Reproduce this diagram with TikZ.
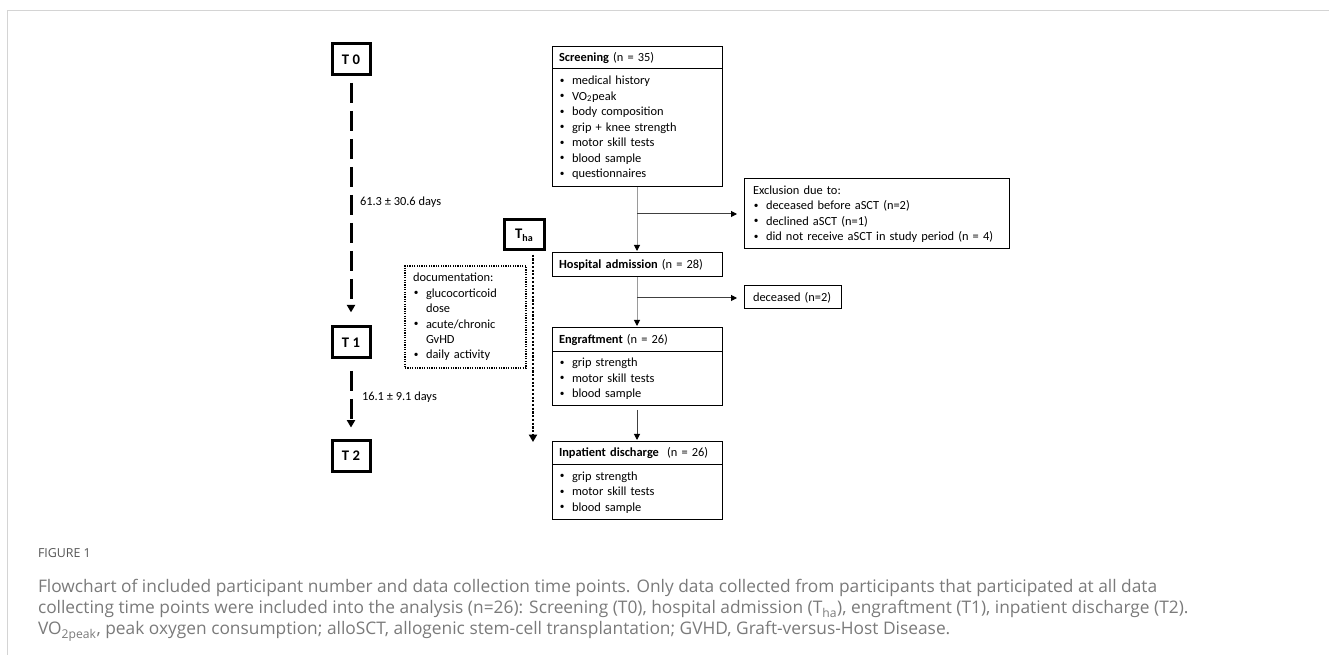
\documentclass[tikz,border=0pt]{standalone}
\usepackage{fontspec}
\setmainfont{Carlito}
\newfontfamily\capfont{Open Sans}
\usetikzlibrary{positioning,arrows.meta}
\definecolor{FrameGray}{HTML}{D4D4D4}
\definecolor{CapGray}{HTML}{7A7A7A}
\definecolor{CapDark}{HTML}{555555}
\definecolor{LinkGray}{HTML}{9A9A9A}
\definecolor{LinkDark}{HTML}{404040}
\newcommand{\itm}{\makebox[9.75pt][l]{\hspace*{0.6pt}\raisebox{0.25ex}{\scalebox{0.75}{\textbullet}}}}
\newcommand{\cnt}{\hspace*{9.75pt}}

\begin{document}
\begin{tikzpicture}[x=0.75pt, y=-0.75pt,
  every node/.style={font=\fontsize{9.3}{11.6}\selectfont, inner sep=0pt, outer sep=0pt},
  tbox/.style={draw, line width=2.25pt, minimum width=28.5pt, minimum height=23.25pt, font=\fontsize{11}{12}\selectfont\bfseries},
  flowbox/.style={draw, line width=0.75pt, minimum width=127.5pt, text width=117pt, inner xsep=5.25pt, align=left},
  sidebox/.style={draw, line width=0.75pt, inner xsep=6.75pt, align=left},
  timeline/.style={line width=2.25pt, dash pattern=on 15pt off 6pt, -{Triangle[width=6pt,length=5.5pt]}},
  flowlink/.style={line width=0.75pt, LinkGray, -{Triangle[width=4.5pt,length=4.5pt,color=black]}},
  sidelink/.style={line width=0.75pt, LinkDark, -{Triangle[width=4.5pt,length=4.5pt,color=black]}},
  capline/.style={anchor=base west, font=\capfont\fontsize{13}{15}\selectfont, text=CapGray}]
  \useasboundingbox (0,0) rectangle (1329,655);
  % frame
  \draw[FrameGray, line width=1pt] (7.5,655) -- (7.5,10.5) -- (1329,10.5);

  % time points
  \node[tbox] (t0) at (351,59.5) {T 0};
  \node[tbox] (t1) at (351,342.5) {T 1};
  \node[tbox] (t2) at (351,456) {T 2};
  \node[tbox, minimum width=30pt, minimum height=22.5pt] (tha) at (524,235) {T\raisebox{-2.2pt}{\fontsize{7.5}{8}\selectfont ha}};
  \draw[timeline, shorten <=6pt, shorten >=11pt] (t0) -- (t1);
  \draw[timeline, shorten <=9.75pt, shorten >=9.75pt] (t1) -- (t2);
  \node[anchor=west] (gap1) at (360,202) {61.3 ± 30.6 days};
  \node[anchor=west] (gap2) at (362,397) {16.1 ± 9.1 days};
  \coordinate (thaend) at (533,442);
  \draw[line width=2.1pt, dash pattern=on 1.6pt off 1.2pt, -{Triangle[width=6pt,length=5.5pt]}, shorten <=3.5pt] (tha.south -| thaend) -- (thaend);

  % documentation
  \node[draw, line width=0.9pt, dash pattern=on 0.9pt off 0.9pt, minimum width=90.75pt, minimum height=76.5pt,
        text width=78.75pt, inner xsep=6pt, align=left] (doc) at (465.5,317)
    {documentation:\\ \itm glucocorticoid\\ \cnt dose\\ \itm acute/chronic\\ \cnt GvHD\\ \itm daily activity};

  % flow
  \node[flowbox, minimum height=16.5pt] (scrhead) at (637,58) {\textbf{Screening} (n = 35)};
  \node[flowbox, minimum height=88.5pt, below=0pt of scrhead] (scrlist)
    {\itm medical history\\ \itm VO\textsubscript{2}peak\\ \itm body composition\\ \itm grip + knee strength\\
     \itm motor skill tests\\ \itm blood sample\\ \itm questionnaires};
  \node[flowbox, minimum height=18pt] (hosp) at (637,265) {\textbf{Hospital admission} (n = 28)};
  \node[flowbox, minimum height=18pt] (enghead) at (637,340) {\textbf{Engraftment} (n = 26)};
  \node[flowbox, minimum height=40.5pt, below=0pt of enghead] (englist)
    {\itm grip strength\\ \itm motor skill tests\\ \itm blood sample};
  \node[flowbox, minimum height=17.25pt] (dischead) at (637,453.5) {\textbf{Inpatient discharge}\ \ (n = 26)};
  \node[flowbox, minimum height=41.25pt, below=0pt of dischead] (disclist)
    {\itm grip strength\\ \itm motor skill tests\\ \itm blood sample};

  % exclusions
  \node[sidebox, minimum width=198.75pt, text width=185.25pt, minimum height=52.5pt] (excl) at (876.5,214)
    {Exclusion due to:\\ \itm deceased before aSCT (n=2)\\ \itm declined aSCT (n=1)\\ \itm did not receive aSCT in study period (n = 4)};
  \node[sidebox, minimum width=72.75pt, text width=59.25pt, minimum height=17.25pt] (dead) at (792.5,297.5) {deceased (n=2)};

  \draw[flowlink, shorten >=1.5pt] (scrlist) -- (hosp);
  \draw[flowlink, shorten >=1.5pt] (hosp) -- (enghead);
  \draw[sidelink, shorten <=3pt, shorten >=1.5pt] (englist) -- (dischead);
  \coordinate (br1) at (637,214);
  \coordinate (br2) at (637,298);
  \draw[sidelink, shorten >=5.25pt] (br1) -- (br1 -| excl.west);
  \draw[sidelink, shorten >=5.25pt] (br2) -- (br2 -| dead.west);

  % caption
  \node[anchor=base west, font=\capfont\fontsize{9.3}{10}\selectfont, text=CapDark] (capno) at (38,558) {FIGURE 1};
  \node[capline] (cap1) at (38,593)
    {Flowchart of included participant number and data collection time points. Only data collected from participants that participated at all data};
  \node[capline] (cap2) at (38,614)
    {collecting time points were included into the analysis (n=26): Screening (T0), hospital admission (T\textsubscript{ha}), engraftment (T1), inpatient discharge (T2).};
  \node[capline] (cap3) at (38,635)
    {VO\textsubscript{2peak}, peak oxygen consumption; alloSCT, allogenic stem-cell transplantation; GVHD, Graft-versus-Host Disease.};
\end{tikzpicture}
\end{document}
